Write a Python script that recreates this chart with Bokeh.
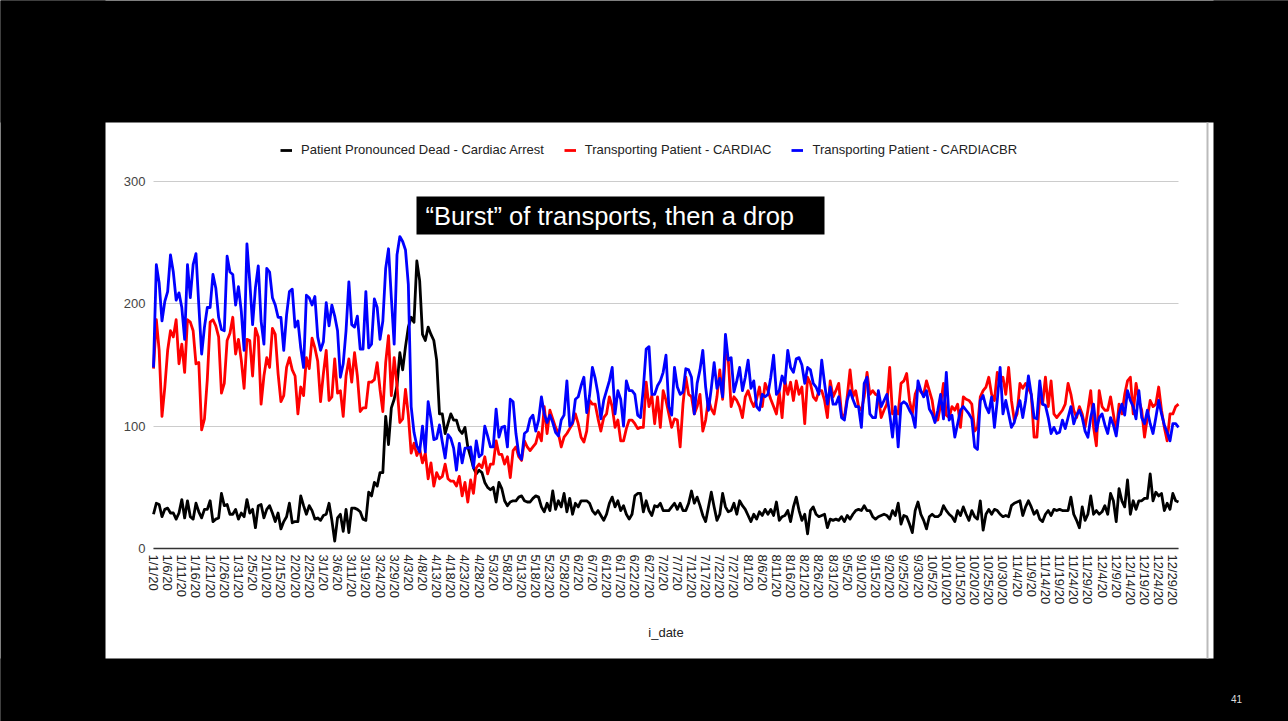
import pandas as pd
from bokeh.plotting import figure
from bokeh.models import Range1d, FixedTicker, BoxAnnotation, Label, Legend, LegendItem
from bokeh.embed import file_html
from bokeh.resources import INLINE

# ---------------- data ----------------
missing_days = ["2020-03-12", "2020-03-13", "2020-03-14"]
all_days = pd.date_range("2020-01-01", "2020-12-31", freq="D")
days = [d for d in all_days if d.strftime("%Y-%m-%d") not in missing_days]
date_labels = [f"{d.month}/{d.day}/20" for d in days]

legend_labels = ["Patient Pronounced Dead - Cardiac Arrest",
                 "Transporting Patient - CARDIAC",
                 "Transporting Patient - CARDIACBR"]

dead_cardiac_arrest = [
    28, 37, 36, 26, 32, 33, 29, 29, 24, 29,
    40, 25, 39, 26, 24, 37, 30, 25, 32, 32,
    39, 22, 24, 25, 45, 35, 36, 28, 28, 32,
    24, 29, 26, 40, 29, 32, 17, 35, 36, 25,
    32, 35, 29, 22, 29, 16, 22, 26, 37, 21,
    22, 22,
    43, 35, 28, 35, 31, 24, 25, 23, 27, 28,
    37, 23, 6, 25, 28, 14, 32, 13, 33, 33,
    32, 30, 24, 23, 46, 43, 54, 51, 62, 62,
    108, 85, 115, 122, 133, 160, 146, 165, 181, 189,
    185, 235, 219, 175, 170, 181, 175, 170, 154, 110,
    110, 94, 102, 110, 105, 105, 97, 94, 99, 83,
    75, 66, 61, 64, 62, 54, 50, 48, 50, 38,
    54, 49, 39, 35, 38, 39, 39, 42, 43, 39,
    38, 38, 41, 43, 42, 34, 30, 37, 31, 47,
    32, 39, 34, 45, 30, 41, 28, 37, 34, 39,
    39, 39, 37, 31, 28, 31, 27, 23, 28, 37,
    42, 34, 39, 31, 35, 28, 24, 28, 43, 45,
    45, 30, 39, 31, 27, 35, 34, 37, 31, 31,
    31, 34, 37, 32, 37, 31, 31, 37, 47, 37,
    42, 35, 27, 22, 34, 46, 34, 23, 28, 45,
    34, 30, 31, 37, 28, 39, 35, 32, 27, 22,
    28, 24, 30, 27, 32, 28, 32, 27, 38, 23,
    26, 27, 31, 22, 34, 42, 31, 23, 28, 12,
    31, 34, 28, 26,
    27, 28, 17, 24, 23, 24, 23, 26, 22, 27,
    24, 28, 31, 32, 31, 35, 31, 31, 26,
    24, 26, 27, 28, 27, 24, 31, 27, 37, 20,
    27, 26, 20, 13, 31, 38, 28, 23, 16, 26,
    28, 26, 26, 28, 35, 31, 28, 26, 22, 31,
    27, 34, 28, 23, 31, 26, 24, 39, 15, 28,
    32, 28, 32, 31, 28, 26, 27, 26, 35,
    37, 38, 39, 27, 34, 39, 34, 28, 31, 24,
    22, 28, 31, 27, 32, 31, 32, 31, 31, 31,
    42, 28, 23, 17, 34, 23, 28, 43, 28, 31,
    28, 30, 35, 28, 45, 39, 22, 49, 39, 34,
    56, 28, 39, 32, 39, 39, 41, 41, 61,
    39, 46, 43, 45, 31, 37, 32, 45, 39, 38,
]

transport_cardiac = [
    147, 187, 162, 108, 132, 162, 178, 173, 187, 151,
    167, 144, 187, 185, 178, 151, 152, 97, 106, 138,
    185, 187, 182, 173, 127, 135, 170, 176, 189, 159,
    171, 154, 131, 171, 170, 141, 180, 173, 118, 141,
    156, 148, 180, 175, 143, 120, 125, 148, 156, 146,
    141, 110,
    132, 125, 156, 147, 172, 164, 153, 120, 143, 162,
    121, 124, 155, 127, 129, 108, 141, 155, 136, 160,
    141, 112, 115, 115, 136, 136, 138, 152, 130, 112,
    152, 174, 125, 156, 133, 103, 106, 130, 109, 78,
    86, 76, 81, 70, 78, 57, 70, 51, 62, 57,
    59, 69, 57, 55, 55, 51, 59, 43, 54, 38,
    56, 45, 66, 69, 66, 75, 61, 69, 69, 88,
    77, 77, 69, 75, 58, 80, 83, 75, 72, 88,
    83, 80, 83, 86, 95, 88, 116, 94, 113, 106,
    99, 94, 83, 91, 94, 98, 102, 110, 102, 91,
    87, 96, 121, 118, 118, 106, 96, 107, 110, 124,
    116, 99, 105, 88, 88, 98, 105, 105, 102, 98,
    99, 99, 136, 116, 125, 102, 124, 99, 129, 121,
    110, 99, 106, 105, 83, 118, 140, 126, 124, 110,
    116, 126, 96, 105, 122, 114, 110, 124, 146, 122,
    159, 154, 116, 124, 121, 116, 107, 124, 129, 121,
    116, 122, 132, 116, 135, 129, 122, 116, 110, 128,
    107, 137, 126, 136, 121, 137, 126, 132, 102, 140,
    135, 124, 121, 129,
    129, 121, 107, 137, 124, 129, 135, 110, 107, 124,
    146, 124, 129, 116, 113, 124, 144, 126, 129,
    126, 125, 107, 113, 118, 148, 110, 113, 110, 135,
    137, 143, 121, 110, 126, 132, 128, 126, 137, 129,
    121, 105, 105, 118, 135, 109, 107, 116, 113, 118,
    99, 124, 122, 121, 118, 96, 99, 124, 129, 132,
    140, 126, 121, 144, 135, 140, 126, 148, 121,
    105, 110, 135, 131, 135, 131, 126, 91, 91, 124,
    118, 140, 116, 137, 110, 107, 110, 113, 118, 135,
    126, 113, 107, 116, 110, 99, 113, 129, 99, 84,
    129, 116, 113, 113, 124, 110, 95, 118, 110, 126,
    137, 140, 110, 135, 121, 113, 91, 107, 121,
    116, 118, 132, 113, 99, 88, 110, 110, 116, 118,
]

transport_cardiacbr = [
    148, 232, 217, 186, 202, 210, 240, 226, 203, 209,
    197, 171, 232, 205, 232, 241, 199, 159, 181, 197,
    197, 224, 213, 189, 179, 178, 239, 226, 224, 199,
    214, 194, 162, 249, 218, 183, 213, 231, 186, 167,
    229, 226, 205, 199, 189, 189, 162, 191, 210, 212,
    181, 186,
    164, 148, 207, 205, 199, 206, 173, 162, 169, 201,
    182, 199, 190, 178, 140, 151, 178, 218, 183, 181,
    190, 163, 163, 210, 164, 167, 204, 197, 171, 186,
    229, 245, 205, 167, 240, 255, 251, 244, 216, 116,
    95, 84, 79, 100, 79, 120, 106, 89, 90, 101,
    87, 74, 93, 90, 82, 64, 86, 70, 82, 82,
    83, 66, 88, 75, 77, 100, 92, 83, 83, 114,
    91, 99, 100, 83, 122, 120, 94, 77, 73, 94,
    96, 106, 109, 96, 105, 124, 110, 103, 109, 103,
    95, 92, 105, 109, 137, 100, 103, 122, 124, 133,
    140, 111, 125, 148, 139, 126, 106, 121, 129, 137,
    148, 110, 129, 122, 100, 137, 129, 129, 126, 109,
    107, 131, 163, 165, 126, 126, 133, 137, 144, 158,
    116, 109, 148, 132, 126, 128, 147, 146, 140, 110,
    135, 146, 162, 132, 113, 131, 152, 131, 139, 124,
    175, 154, 156, 128, 137, 148, 129, 140, 154, 131,
    137, 116, 113, 126, 124, 126, 140, 158, 126, 129,
    141, 135, 162, 148, 144, 155, 156, 150, 135, 148,
    146, 135, 132, 126,
    154, 135, 118, 132, 118, 118, 124, 107, 105, 121,
    129, 122, 116, 116, 99, 135, 140, 110, 107,
    107, 129, 116, 121, 126, 110, 91, 116, 83, 118,
    120, 118, 113, 109, 99, 137, 129, 124, 129, 114,
    110, 103, 113, 126, 106, 144, 105, 109, 91, 102,
    113, 116, 113, 110, 106, 83, 81, 121, 125, 116,
    111, 124, 99, 121, 148, 110, 121, 110, 99,
    103, 113, 121, 107, 121, 141, 126, 107, 106, 137,
    118, 117, 107, 94, 99, 94, 95, 105, 98, 107,
    116, 102, 109, 113, 107, 96, 91, 107, 118, 96,
    107, 110, 101, 94, 107, 101, 92, 110, 118, 109,
    129, 121, 116, 106, 129, 107, 102, 113, 102,
    94, 107, 121, 110, 101, 95, 88, 102, 102, 99,
]

y_ticks = [0, 100, 200, 300]
annotation_text = "\u201cBurst\u201d of transports, then a drop"
page_number = "41"

# ---------------- geometry (pixels) ----------------
W, H = 1288, 721
PLOT_L, PLOT_R = 153, 1178      # first / last day
PLOT_B, PLOT_T = 548, 181       # y = 0 / y = 300
CARD_L, CARD_R, CARD_T, CARD_B = 105, 1213, 122, 658

n = min(len(date_labels), len(dead_cardiac_arrest), len(transport_cardiac), len(transport_cardiacbr))
sx = (PLOT_R - PLOT_L) / (n - 1)
sy = (PLOT_B - PLOT_T) / 300.0


def dx(px):
    return (px - PLOT_L) / sx


def dy(py):
    return (PLOT_B - py) / sy


x = list(range(n))
tick_idx = list(range(0, n, 5))

# the frame covers the whole canvas; axes are pinned inside it
p = figure(width=W, height=H, output_backend="svg", toolbar_location=None,
           x_range=Range1d(dx(0), dx(W)), y_range=Range1d(dy(H), dy(0)),
           min_border_left=0, min_border_right=0, min_border_top=0, min_border_bottom=0)
p.border_fill_color = "black"
p.background_fill_color = "white"
p.outline_line_color = None

p.xgrid.visible = False
p.ygrid.ticker = FixedTicker(ticks=y_ticks)
p.ygrid.grid_line_color = "#cccccc"
p.ygrid.grid_line_width = 1
if "cross_bounds" in p.ygrid.properties():
    p.ygrid.cross_bounds = (0, n - 1)

FONT = "Liberation Sans"
p.yaxis.fixed_location = 0
p.yaxis.ticker = FixedTicker(ticks=y_ticks)
p.yaxis.axis_line_color = None
p.yaxis.major_tick_line_color = None
p.yaxis.minor_tick_line_color = None
p.yaxis.major_tick_out = 0
p.yaxis.major_tick_in = 0
p.yaxis.major_label_text_font = FONT
p.yaxis.major_label_text_font_size = "13px"
p.yaxis.major_label_text_color = "#444444"
p.yaxis.major_label_standoff = 8

p.xaxis.fixed_location = 0
p.xaxis.bounds = (0, n - 1)
p.xaxis.ticker = FixedTicker(ticks=tick_idx)
p.xaxis.major_label_overrides = {i: date_labels[i] for i in tick_idx}
p.xaxis.major_label_orientation = "vertical"
p.xaxis.axis_line_color = "#333333"
p.xaxis.axis_line_width = 1.5
p.xaxis.major_tick_line_color = None
p.xaxis.minor_tick_line_color = None
p.xaxis.major_tick_out = 0
p.xaxis.major_tick_in = 0
p.xaxis.major_label_text_font = FONT
p.xaxis.major_label_text_font_size = "13px"
p.xaxis.major_label_text_color = "#222222"
p.xaxis.major_label_standoff = 6
p.xaxis.axis_label = "i_date"
p.xaxis.axis_label_text_font = FONT
p.xaxis.axis_label_text_font_size = "13px"
p.xaxis.axis_label_text_font_style = "normal"
p.xaxis.axis_label_text_color = "#222222"
p.xaxis.axis_label_standoff = 17

r_dead = p.line(x, dead_cardiac_arrest[:n], line_color="#000000", line_width=2.8, line_join="round")
r_card = p.line(x, transport_cardiac[:n], line_color="#ff0000", line_width=2.8, line_join="round")
r_cbr = p.line(x, transport_cardiacbr[:n], line_color="#0000ff", line_width=2.8, line_join="round")

# black slide surround, leaving the white chart card (extends past the canvas edges)
E = 20
for l, r, t, b in [(-E, W + E, -E, CARD_T), (-E, W + E, CARD_B, H + E),
                   (-E, CARD_L, -E, H + E), (CARD_R, W + E, -E, H + E)]:
    p.add_layout(BoxAnnotation(left=dx(l), right=dx(r), top=dy(t), bottom=dy(b),
                               fill_color="black", fill_alpha=1.0, line_color=None))
# spreadsheet edge line at the card's right side
p.add_layout(BoxAnnotation(left=dx(1206), right=dx(1208), top=dy(CARD_T), bottom=dy(CARD_B),
                           fill_color="#bbbbbb", fill_alpha=1.0, line_color=None))

legend = Legend(items=[LegendItem(label=legend_labels[0], renderers=[r_dead]),
                       LegendItem(label=legend_labels[1], renderers=[r_card]),
                       LegendItem(label=legend_labels[2], renderers=[r_cbr])],
                orientation="horizontal", location=(280, H - 157),
                border_line_color=None, background_fill_alpha=0,
                label_text_font=FONT, label_text_font_size="13px", label_text_color="#222222",
                glyph_width=12, glyph_height=14, label_height=14, label_standoff=9,
                spacing=20, padding=0, margin=0)
p.add_layout(legend)

p.add_layout(BoxAnnotation(left=dx(416), right=dx(824), top=dy(196), bottom=dy(234),
                           fill_color="black", fill_alpha=1.0, line_color=None))
p.add_layout(Label(x=dx(425), y=dy(215), text=annotation_text, text_color="white",
                   text_font=FONT, text_font_size="25.5px", text_baseline="middle"))
p.add_layout(Label(x=dx(1236), y=dy(698), text=page_number,
                   text_color="#dddddd", text_font=FONT, text_font_size="10px",
                   text_align="center", text_baseline="middle"))

open("out.html", "w").write(file_html(p, INLINE))
